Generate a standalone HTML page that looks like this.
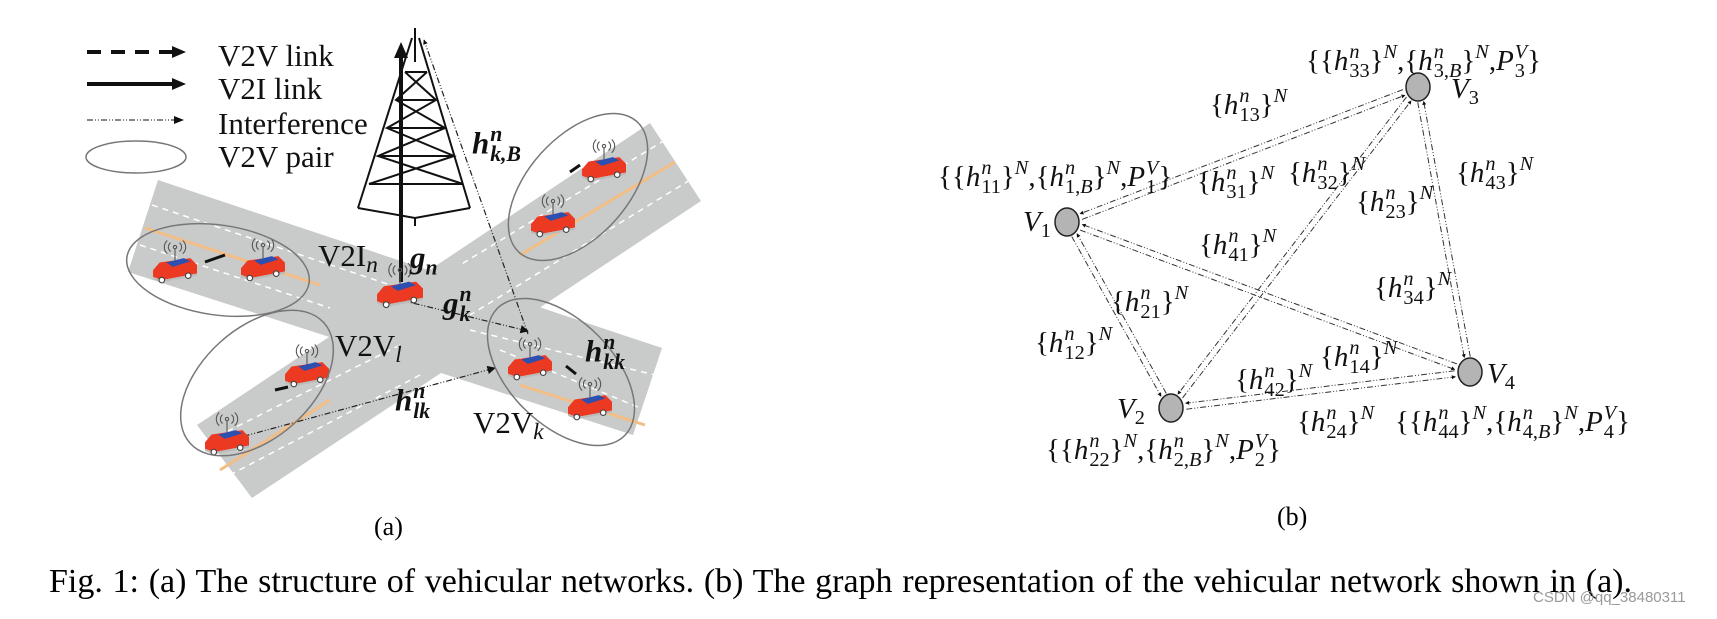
<!DOCTYPE html>
<html><head><meta charset="utf-8"><style>
body{margin:0;background:#fff;}
#c{position:relative;width:1717px;height:619px;overflow:hidden;background:#fff;font-family:"Liberation Serif",serif;}
.t{position:absolute;white-space:nowrap;line-height:1;}
.m{font-size:29px;color:#111;}
.m i{font-style:italic;}
.ss{display:inline-block;font-size:0.7em;line-height:0.9;vertical-align:-0.32em;margin-left:1px;text-align:left;}
.ss>i,.ss>span{display:block}
.sup{font-size:0.7em;vertical-align:0.6em;font-style:italic;}
.leg{font-size:31px;color:#111;}
.b{font-weight:bold;font-style:italic;}
</style></head><body><div id="c">
<svg width="1717" height="619" style="position:absolute;left:0;top:0">
<defs>
<marker id="ah" viewBox="0 0 10 10" refX="9" refY="5" markerWidth="7" markerHeight="7" orient="auto"><path d="M0,0L10,5L0,10z" fill="#111"/></marker>
<marker id="ahb" viewBox="0 0 10 10" refX="9" refY="5" markerWidth="4" markerHeight="4" orient="auto"><path d="M0,0L10,5L0,10z" fill="#111"/></marker>
<g id="car">
<polygon points="-20,2 -14,-5 14,-9 20,-3 20,5 -12,11 -20,8" fill="#ec3a22"/>
<polygon points="-8,-5 8,-9 14,-6 -2,-1" fill="#2d4fb0"/>
<polygon points="-20,8 -12,11 20,5 20,7 -12,13 -20,10" fill="#bbb"/>
<circle cx="-12" cy="11" r="2.5" fill="#fff" stroke="#444"/><circle cx="12" cy="7" r="2.5" fill="#fff" stroke="#444"/>
<line x1="0" y1="-7" x2="0" y2="-18" stroke="#555"/><circle cx="0" cy="-19" r="1.5" fill="none" stroke="#555"/>
<path d="M-4,-23 A5,5 0 0,0 -4,-15 M4,-23 A5,5 0 0,1 4,-15 M-7,-25 A8,8 0 0,0 -7,-13 M7,-25 A8,8 0 0,1 7,-13" fill="none" stroke="#555"/>
</g>
</defs>
<line x1="87" y1="52" x2="172" y2="52" stroke="#111" stroke-width="4" stroke-dasharray="14,10"/>
<path d="M172,46L186,52L172,58z" fill="#111"/>
<line x1="87" y1="84" x2="172" y2="84" stroke="#111" stroke-width="4"/>
<path d="M172,78L186,84L172,90z" fill="#111"/>
<line x1="87" y1="120" x2="174" y2="120" stroke="#111" stroke-width="1" stroke-dasharray="6,2,1,2,1,2"/>
<path d="M174,116L184,120L174,124z" fill="#111"/>
<ellipse cx="136" cy="157" rx="50" ry="16" fill="none" stroke="#777" stroke-width="1.5"/>
<polygon points="158,180 662,348 633,435 128,272" fill="#c9caca"/>
<polygon points="650,123 701,201 252,498 197,425" fill="#c9caca"/>
<g stroke="#fff" stroke-width="1.5" stroke-dasharray="6,5" fill="none">
<line x1="152" y1="205" x2="420" y2="295"/><line x1="140" y1="245" x2="330" y2="308"/>
<line x1="470" y1="330" x2="655" y2="375"/><line x1="500" y1="350" x2="645" y2="410"/>
<line x1="665" y1="140" x2="460" y2="265"/><line x1="690" y1="180" x2="470" y2="315"/>
<line x1="400" y1="345" x2="210" y2="440"/><line x1="420" y1="375" x2="230" y2="475"/>
</g>
<g stroke="#f3bd86" stroke-width="3" fill="none">
<line x1="145" y1="228" x2="320" y2="285"/><line x1="520" y1="385" x2="645" y2="425"/>
<line x1="675" y1="162" x2="520" y2="255"/><line x1="330" y1="400" x2="220" y2="470"/>
</g>
<g stroke="#111" stroke-width="2" fill="none">
<line x1="412" y1="38" x2="358" y2="208"/><line x1="419" y1="38" x2="470" y2="208"/>
<line x1="415" y1="28" x2="415" y2="62"/>
<path d="M405,72L427,72M396,100L436,100M387,128L445,128M378,156L454,156M369,184L463,184"/>
<path d="M405,72L436,100L387,128L454,156L369,184M427,72L396,100L445,128L378,156L463,184"/>
<path d="M358,208L415,218L470,208M415,218L415,226"/>
</g>
<line x1="401" y1="282" x2="401" y2="55" stroke="#111" stroke-width="4"/>
<path d="M394,58L401,42L408,58z" fill="#111"/>
<g stroke="#222" stroke-width="1.2" stroke-dasharray="6,2,1,2,1,2" fill="none">
<line x1="528" y1="334" x2="424" y2="40" marker-end="url(#ahb)"/>
<line x1="400" y1="300" x2="528" y2="331" marker-end="url(#ah)"/>
<line x1="230" y1="440" x2="495" y2="368" marker-end="url(#ah)"/>
</g>
<use href="#car" transform="translate(175,268) scale(1.1)"/>
<use href="#car" transform="translate(263,266) scale(1.1)"/>
<use href="#car" transform="translate(400,292) scale(1.15)"/>
<use href="#car" transform="translate(604,167) scale(1.1)"/>
<use href="#car" transform="translate(553,222) scale(1.1)"/>
<use href="#car" transform="translate(227,440) scale(1.1)"/>
<use href="#car" transform="translate(307,372) scale(1.1)"/>
<use href="#car" transform="translate(530,365) scale(1.1)"/>
<use href="#car" transform="translate(590,405) scale(1.1)"/>
<g fill="#111" stroke="#111" stroke-width="3">
<line x1="225" y1="255" x2="205" y2="262"/><line x1="275" y1="390" x2="288" y2="387"/>
<line x1="580" y1="165" x2="570" y2="172"/><line x1="576" y1="374" x2="566" y2="366"/>
</g>
<g fill="none" stroke="#777" stroke-width="1.5">
<ellipse cx="218" cy="270" rx="92" ry="45" transform="rotate(8 218 270)"/>
<ellipse cx="578" cy="187" rx="88" ry="50" transform="rotate(-48 578 187)"/>
<ellipse cx="257" cy="383" rx="90" ry="55" transform="rotate(-42 257 383)"/>
<ellipse cx="561" cy="372" rx="90" ry="52" transform="rotate(45 561 372)"/>
</g>
<g stroke="#333" stroke-width="1" stroke-dasharray="6,2,1,2,1,2" fill="none" id="edges"></g>
<g fill="#b4b4b4" stroke="#222" stroke-width="1.5">
<ellipse cx="1067" cy="222" rx="12" ry="14"/>
<ellipse cx="1171" cy="408" rx="12" ry="14"/>
<ellipse cx="1418" cy="87" rx="12" ry="14"/>
<ellipse cx="1470" cy="372" rx="12" ry="14"/>
</g>
</svg>
<div class="t leg" style="left:218px;top:40px">V2V link</div>
<div class="t leg" style="left:218px;top:73px">V2I link</div>
<div class="t leg" style="left:218px;top:108px">Interference</div>
<div class="t leg" style="left:218px;top:141px">V2V pair</div>
<div class="t leg" style="left:318px;top:240px">V2I<i style="font-size:0.75em;vertical-align:-0.25em">n</i></div>
<div class="t leg b" style="left:410px;top:242px">g<span style="font-size:0.7em;vertical-align:-0.3em">n</span></div>
<div class="t leg b" style="left:472px;top:125px">h<span class="ss"><span>n</span><span>k,B</span></span></div>
<div class="t leg b" style="left:443px;top:285px">g<span class="ss"><span>n</span><span>k</span></span></div>
<div class="t leg b" style="left:585px;top:333px">h<span class="ss"><span>n</span><span>kk</span></span></div>
<div class="t leg b" style="left:395px;top:382px">h<span class="ss"><span>n</span><span>lk</span></span></div>
<div class="t leg" style="left:335px;top:330px">V2V<i style="font-size:0.75em;vertical-align:-0.25em">l</i></div>
<div class="t leg" style="left:473px;top:407px">V2V<i style="font-size:0.75em;vertical-align:-0.25em">k</i></div>
<div class="t" style="left:374px;top:514px;font-size:26px">(a)</div>
<div class="t" style="left:1277px;top:504px;font-size:26px">(b)</div>
<div class="t m" style="left:1306px;top:42px">{{<i>h</i><span class="ss"><i>n</i><span>33</span></span>}<span class="sup">N</span>,{<i>h</i><span class="ss"><i>n</i><span>3,<i>B</i></span></span>}<span class="sup">N</span>,<i>P</i><span class="ss"><i>V</i><span>3</span></span>}</div>
<div class="t m" style="left:1451px;top:75px"><i>V</i><span style="font-size:.7em;vertical-align:-.3em">3</span></div>
<div class="t m" style="left:1210px;top:86px">{<i>h</i><span class="ss"><i>n</i><span>13</span></span>}<span class="sup">N</span></div>
<div class="t m" style="left:938px;top:158px">{{<i>h</i><span class="ss"><i>n</i><span>11</span></span>}<span class="sup">N</span>,{<i>h</i><span class="ss"><i>n</i><span>1,<i>B</i></span></span>}<span class="sup">N</span>,<i>P</i><span class="ss"><i>V</i><span>1</span></span>}</div>
<div class="t m" style="left:1197px;top:163px">{<i>h</i><span class="ss"><i>n</i><span>31</span></span>}<span class="sup">N</span></div>
<div class="t m" style="left:1288px;top:154px">{<i>h</i><span class="ss"><i>n</i><span>32</span></span>}<span class="sup">N</span></div>
<div class="t m" style="left:1456px;top:154px">{<i>h</i><span class="ss"><i>n</i><span>43</span></span>}<span class="sup">N</span></div>
<div class="t m" style="left:1356px;top:183px">{<i>h</i><span class="ss"><i>n</i><span>23</span></span>}<span class="sup">N</span></div>
<div class="t m" style="left:1023px;top:208px"><i>V</i><span style="font-size:.7em;vertical-align:-.3em">1</span></div>
<div class="t m" style="left:1199px;top:226px">{<i>h</i><span class="ss"><i>n</i><span>41</span></span>}<span class="sup">N</span></div>
<div class="t m" style="left:1374px;top:269px">{<i>h</i><span class="ss"><i>n</i><span>34</span></span>}<span class="sup">N</span></div>
<div class="t m" style="left:1111px;top:283px">{<i>h</i><span class="ss"><i>n</i><span>21</span></span>}<span class="sup">N</span></div>
<div class="t m" style="left:1035px;top:324px">{<i>h</i><span class="ss"><i>n</i><span>12</span></span>}<span class="sup">N</span></div>
<div class="t m" style="left:1320px;top:338px">{<i>h</i><span class="ss"><i>n</i><span>14</span></span>}<span class="sup">N</span></div>
<div class="t m" style="left:1235px;top:361px">{<i>h</i><span class="ss"><i>n</i><span>42</span></span>}<span class="sup">N</span></div>
<div class="t m" style="left:1487px;top:360px"><i>V</i><span style="font-size:.7em;vertical-align:-.3em">4</span></div>
<div class="t m" style="left:1117px;top:395px"><i>V</i><span style="font-size:.7em;vertical-align:-.3em">2</span></div>
<div class="t m" style="left:1297px;top:403px">{<i>h</i><span class="ss"><i>n</i><span>24</span></span>}<span class="sup">N</span></div>
<div class="t m" style="left:1395px;top:403px">{{<i>h</i><span class="ss"><i>n</i><span>44</span></span>}<span class="sup">N</span>,{<i>h</i><span class="ss"><i>n</i><span>4,<i>B</i></span></span>}<span class="sup">N</span>,<i>P</i><span class="ss"><i>V</i><span>4</span></span>}</div>
<div class="t m" style="left:1046px;top:431px">{{<i>h</i><span class="ss"><i>n</i><span>22</span></span>}<span class="sup">N</span>,{<i>h</i><span class="ss"><i>n</i><span>2,<i>B</i></span></span>}<span class="sup">N</span>,<i>P</i><span class="ss"><i>V</i><span>2</span></span>}</div>
<div class="t" style="left:49px;top:565px;width:1583px;font-size:34px;text-align:justify;text-align-last:justify">Fig. 1: (a) The structure of vehicular networks. (b) The graph representation of the vehicular network shown in (a).</div>
<div class="t" style="left:1533px;top:590px;font-size:15px;color:#999;font-family:'Liberation Sans',sans-serif">CSDN @qq_38480311</div>
</div>
<script>
var N={1:[1067,222],2:[1171,408],3:[1418,87],4:[1470,372]};
var P=[[1,3],[1,2],[1,4],[2,3],[2,4],[3,4]];
var g=document.getElementById('edges'),s='';
P.forEach(function(p){var a=N[p[0]],b=N[p[1]];var dx=b[0]-a[0],dy=b[1]-a[1],L=Math.hypot(dx,dy),ux=dx/L,uy=dy/L,px=-uy*3,py=ux*3,r=15;
var ax=a[0]+ux*r,ay=a[1]+uy*r,bx=b[0]-ux*r,by=b[1]-uy*r;
s+='<line x1="'+(ax+px)+'" y1="'+(ay+py)+'" x2="'+(bx+px)+'" y2="'+(by+py)+'" marker-end="url(#ahb)"/>';
s+='<line x1="'+(bx-px)+'" y1="'+(by-py)+'" x2="'+(ax-px)+'" y2="'+(ay-py)+'" marker-end="url(#ahb)"/>';});
g.innerHTML=s;
</script>
</body></html>
